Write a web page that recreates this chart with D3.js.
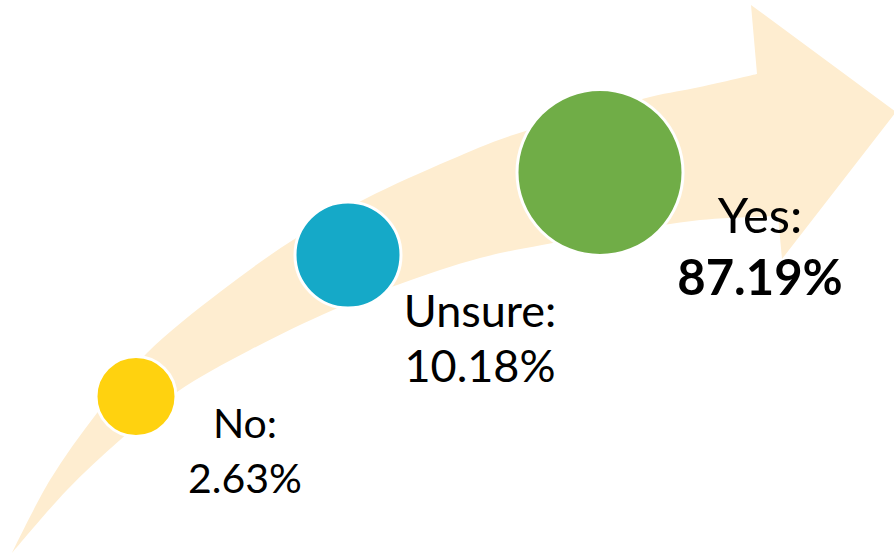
<!DOCTYPE html>
<html>
<head>
<meta charset="utf-8">
<script src="https://cdn.jsdelivr.net/npm/d3@7"></script>
<style>
    body { margin: 0; background: #fff; }
    svg { display: block; }
</style>
</head>
<body>
<svg id="chart" width="894" height="556"></svg>
<script>
// survey answers
const categories = ['No', 'Unsure', 'Yes']
const values = [2.63, 10.18, 87.19]
const colors = ['#FFD20F', '#15A9C8', '#70AD47']

const svg = d3.select('#chart')
const rank = categories.map((c, i) => i)

// layout scales (by rank along the arrow)
const cx = d3.scaleLinear().domain([0, 1, 2]).range([136, 348, 600])
const cy = d3.scaleLinear().domain([0, 1, 2]).range([396.5, 255, 172.5])
const radius = d3.scaleLinear().domain([0, 1, 2]).range([40, 53, 83])
const labelX = d3.scaleLinear().domain([0, 1, 2]).range([245, 480, 760])
const labelY = d3.scaleLinear().domain([0, 1, 2]).range([438, 327, 233])
const fontSize = d3.scaleLinear().domain([0, 1, 2]).range([41, 45, 49])

// curved arrow behind the circles
const outer = [[12, 553], [50, 480], [97, 413], [147, 353], [220, 292], [293, 240],
    [365, 199], [450, 160], [513, 135], [650, 97], [700, 87], [757, 74]]
const inner = [[778, 216], [700, 220], [620, 232], [542, 245], [480, 258], [400, 284],
    [333, 310], [250, 350], [177, 392], [120, 440], [67, 490], [12, 553]]
const curve = d3.line().curve(d3.curveCatmullRom.alpha(0.5))
const arrowPath = curve(outer) + 'L751,5L896,112L782,259' + 'L' + curve(inner).slice(1) + 'Z'

svg.append('path')
    .attr('d', arrowPath)
    .attr('fill', '#FEEDD0')

svg.selectAll('circle')
    .data(rank)
    .enter().append('circle')
    .attr('cx', d => cx(d))
    .attr('cy', d => cy(d))
    .attr('r', d => radius(d))
    .attr('fill', d => colors[d])
    .attr('stroke', '#fff')
    .attr('stroke-width', 3)

const labels = svg.selectAll('text.label')
    .data(rank)
    .enter().append('text')
    .attr('class', 'label')
    .attr('text-anchor', 'middle')
    .attr('font-family', 'Lato, sans-serif')
    .attr('font-size', d => fontSize(d))
    .attr('fill', '#000')

labels.append('tspan')
    .attr('x', d => labelX(d))
    .attr('y', d => labelY(d))
    .text(d => categories[d] + ':')

labels.append('tspan')
    .attr('x', d => labelX(d))
    .attr('y', d => labelY(d) + (d === 2 ? 62 : 55))
    .attr('font-weight', d => d === 2 ? 'bold' : 'normal')
    .text(d => values[d].toFixed(2) + '%')
</script>
</body>
</html>
